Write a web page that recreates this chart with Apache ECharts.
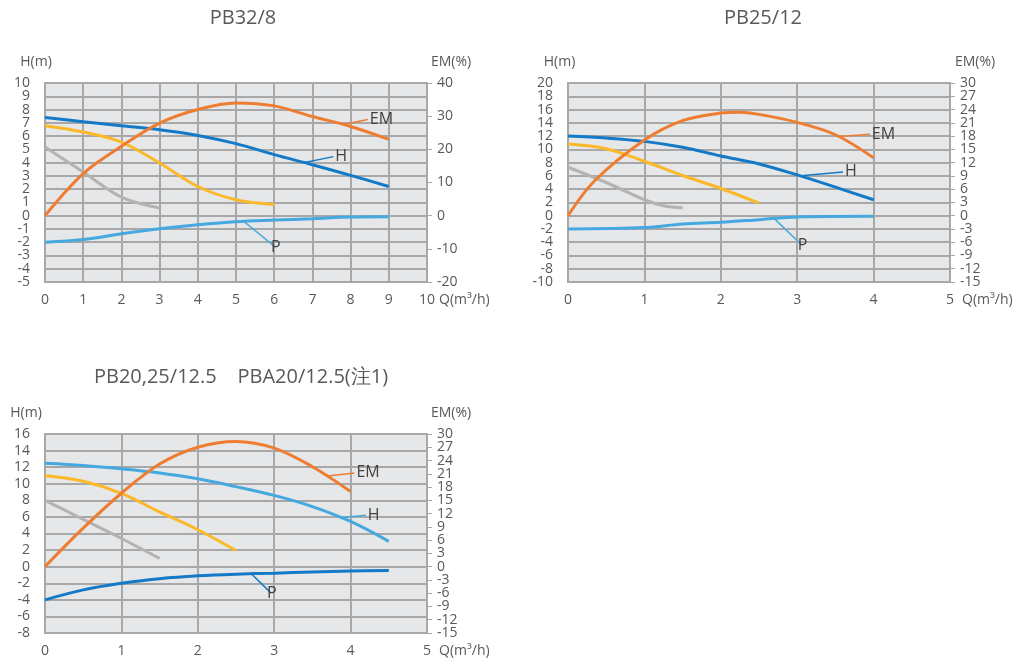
<!DOCTYPE html>
<html><head><meta charset="utf-8">
<script src="https://cdn.jsdelivr.net/npm/echarts@6/dist/echarts.min.js"></script>
<style>html,body{margin:0;padding:0;background:#fff}#c{width:1016px;height:666px}</style>
</head><body><div id="c"></div>
<script>
// ---- Chart 1: PB32/8 ----
const title1 = 'PB32/8';
const hTicks1 = ['-5','-4','-3','-2','-1','0','1','2','3','4','5','6','7','8','9','10'];
const emTicks1 = ['-20','-10','0','10','20','30','40'];
const q1 = [0,1,2,3,4,5,6,7,8,9];
const h1 = [7.4,7.08,6.78,6.48,6.05,5.43,4.6,3.84,3.04,2.2];
const em1 = [0,12.7,20.9,27.9,32,34,33.1,29.9,26.9,23];
const p1 = [-2.0,-1.8,-1.36,-0.98,-0.68,-0.45,-0.33,-0.23,-0.1,-0.08];
const qy1 = [0,1,2,3,4,5,6];
const y1 = [6.78,6.3,5.55,3.97,2.2,1.2,0.85];
const qg1 = [0,1,2,3];
const g1 = [5.17,3.3,1.4,0.58];

// ---- Chart 2: PB25/12 ----
const title2 = 'PB25/12';
const hTicks2 = ['-10','-8','-6','-4','-2','0','2','4','6','8','10','12','14','16','18','20'];
const emTicks2 = ['-15','-12','-9','-6','-3','0','3','6','9','12','15','18','21','24','27','30'];
const q2 = [0,0.5,1,1.5,2,2.5,3,3.5,4];
const h2 = [12.0,11.7,11.2,10.3,9.0,7.8,6.15,4.3,2.4];
const qe2 = [0,0.35,1,1.5,2,2.25,2.5,3,3.5,4];
const em2 = [0,7.9,17.1,21.5,23.2,23.4,22.9,21.1,18.3,13.1];
const qp2 = [0,1,1.5,2,2.5,3,4];
const p2 = [-2.0,-1.8,-1.25,-1.0,-0.6,-0.2,-0.1];
const qy2 = [0,0.5,1,1.5,2,2.5];
const y2 = [10.8,10.1,8.2,6.05,4.1,1.9];
const qg2 = [0,0.5,1,1.25,1.5];
const g2 = [7.3,5.0,2.4,1.5,1.2];

// ---- Chart 3: PB20,25/12.5  PBA20/12.5 ----
const title3 = 'PB20,25/12.5    PBA20/12.5(注1)';
const hTicks3 = ['-8','-6','-4','-2','0','2','4','6','8','10','12','14','16'];
const emTicks3 = ['-15','-12','-9','-6','-3','0','3','6','9','12','15','18','21','24','27','30'];
const q3 = [0,0.5,1,1.5,2,2.5,3,3.5,4,4.5];
const h3 = [12.47,12.2,11.8,11.3,10.6,9.65,8.6,7.25,5.45,3.05];
const qe3 = [0,0.5,1,1.5,2,2.5,3,3.5,4];
const em3 = [0,8.7,16.6,23.2,27.0,28.3,26.8,22.6,17.0];
const p3 = [-4.0,-2.8,-2.0,-1.45,-1.1,-0.9,-0.78,-0.65,-0.53,-0.45];
const qy3 = [0,0.5,1,1.5,2,2.5];
const y3 = [11.0,10.3,8.85,6.6,4.45,1.95];
const qg3 = [0,0.5,1,1.5];
const g3 = [8.0,5.7,3.4,1.0];

const C = {em:'#ee7d31', dark:'#1479c6', light:'#45a9df', yel:'#fbb829', gray:'#b3b3b3'};
const TXT = '#595959';
const FONT = 'Open Sans';
const GRIDC = '#a8a8a8';

function zip(xs, ys){ return xs.map((x,i)=>[x, ys[i]]); }

function grids(){
  return [
    {left:45, top:83, width:382, height:199},
    {left:568, top:83, width:382, height:199},
    {left:45, top:434, width:382, height:199}
  ].map(g=>Object.assign(g,{show:true, backgroundColor:'#e6e7e8', borderColor:GRIDC, borderWidth:2, containLabel:false}));
}

const LBL = {color:TXT, fontSize:14, fontFamily:FONT};

function xAxis(gi, max){
  return {type:'value', gridIndex:gi, min:0, max:max, interval:1,
    name:'Q(m³/h)', nameLocation:'end', nameGap:12,
    nameTextStyle:{color:TXT, fontSize:14, fontFamily:FONT, verticalAlign:'top', padding:[11,0,0,0]},
    axisLine:{show:false, onZero:false}, axisTick:{show:false},
    axisLabel:Object.assign({margin:11, showMinLabel:true, showMaxLabel:true}, LBL),
    splitLine:{show:true, lineStyle:{color:GRIDC, width:2}}};
}
// value axes (scales for the data), labels hidden
function yValLeft(gi, min, max, step){
  return {type:'value', gridIndex:gi, position:'left', min:min, max:max, interval:step,
    axisLine:{show:false, onZero:false}, axisTick:{show:false}, axisLabel:{show:false},
    splitLine:{show:true, lineStyle:{color:GRIDC, width:2}}};
}
function yValRight(gi, min, max, step){
  return {type:'value', gridIndex:gi, position:'right', min:min, max:max, interval:step,
    axisLine:{show:false, onZero:false}, axisTick:{show:false}, axisLabel:{show:false},
    splitLine:{show:false}};
}
// label axes (tick labels listed), all labels shown
function yLblLeft(gi, ticks, shift){
  return {type:'category', gridIndex:gi, position:'left', data:ticks, boundaryGap:false,
    name:'H(m)', nameLocation:'end', nameGap:21,
    nameTextStyle:{color:TXT, fontSize:14, fontFamily:FONT, align:'center', verticalAlign:'middle', padding:[0,shift,0,0]},
    axisLine:{show:false, onZero:false}, axisTick:{show:false},
    axisLabel:Object.assign({margin:15, interval:0}, LBL),
    splitLine:{show:false}};
}
function yLblRight(gi, ticks, pad){
  return {type:'category', gridIndex:gi, position:'right', data:ticks, boundaryGap:false,
    name:'EM(%)', nameLocation:'end', nameGap:21,
    nameTextStyle:{color:TXT, fontSize:14, fontFamily:FONT, align:'center', verticalAlign:'middle', padding:[0,0,0,pad]},
    axisLine:{show:false, onZero:false},
    axisTick:{show:true, length:5, interval:0, lineStyle:{color:GRIDC, width:1}},
    axisLabel:Object.assign({margin:10, interval:0}, LBL),
    splitLine:{show:false}};
}

function line(xi, yi, data, color, lbl){
  const s = {type:'line', xAxisIndex:xi, yAxisIndex:yi, data:data, smooth:0.35, symbol:'none',
    lineStyle:{color:color, width:3}, silent:true, z:3};
  if(lbl){
    s.markLine = {silent:true, symbol:'none', animation:false,
      lineStyle:{color:color, width:1.5, type:'solid'},
      label:{show:true, position:'end', formatter:lbl.text, color:'#404040', fontSize:16, fontFamily:FONT, distance:2},
      data:[[{coord:lbl.from},{coord:lbl.to}]]};
  }
  return s;
}

const TT = {color:TXT, fontSize:20, fontWeight:'normal', fontFamily:FONT};
const option = {
  animation:false,
  backgroundColor:'#ffffff',
  title:[
    {text:title1, left:238, top:3, textAlign:'center', textStyle:TT},
    {text:title2, left:758, top:3, textAlign:'center', textStyle:TT},
    {text:title3, left:236, top:362, textAlign:'center', textStyle:TT}
  ],
  grid:grids(),
  xAxis:[xAxis(0,10), xAxis(1,5), xAxis(2,5)],
  yAxis:[
    // 0..5 value axes
    yValLeft(0,-5,10,1), yValRight(0,-20,40,10),
    yValLeft(1,-10,20,2), yValRight(1,-15,30,3),
    yValLeft(2,-8,16,2), yValRight(2,-15,30,3),
    // 6..11 label axes
    yLblLeft(0,hTicks1,18), yLblRight(0,emTicks1,48),
    yLblLeft(1,hTicks2,17), yLblRight(1,emTicks2,50),
    yLblLeft(2,hTicks3,38), yLblRight(2,emTicks3,48)
  ],
  series:[
    // chart 1
    line(0,0, zip(qg1,g1), C.gray),
    line(0,0, zip(qy1,y1), C.yel),
    line(0,0, zip(q1,p1), C.light, {text:'P', from:[5.2,-0.42], to:[6.0,-2.3]}),
    line(0,0, zip(q1,h1), C.dark, {text:'H', from:[6.8,4.0], to:[7.55,4.45]}),
    line(0,1, zip(q1,em1), C.em, {text:'EM', from:[7.8,27.5], to:[8.45,29.0]}),
    // chart 2
    line(1,2, zip(qg2,g2), C.gray),
    line(1,2, zip(qy2,y2), C.yel),
    line(1,2, zip(qp2,p2), C.light, {text:'P', from:[2.7,-0.45], to:[3.05,-4.3]}),
    line(1,2, zip(q2,h2), C.dark, {text:'H', from:[3.05,6.0], to:[3.6,6.6]}),
    line(1,3, zip(qe2,em2), C.em, {text:'EM', from:[3.55,17.9], to:[3.95,18.4]}),
    // chart 3
    line(2,4, zip(qg3,g3), C.gray),
    line(2,4, zip(qy3,y3), C.yel),
    line(2,4, zip(q3,p3), C.dark, {text:'P', from:[2.7,-0.85], to:[2.95,-3.1]}),
    line(2,4, zip(q3,h3), C.light, {text:'H', from:[3.85,5.9], to:[4.2,6.2]}),
    line(2,5, zip(qe3,em3), C.em, {text:'EM', from:[3.7,20.5], to:[4.05,21.2]})
  ]
};
const chart = echarts.init(document.getElementById('c'), null, {renderer:'canvas'});
chart.setOption(option);
</script></body></html>
